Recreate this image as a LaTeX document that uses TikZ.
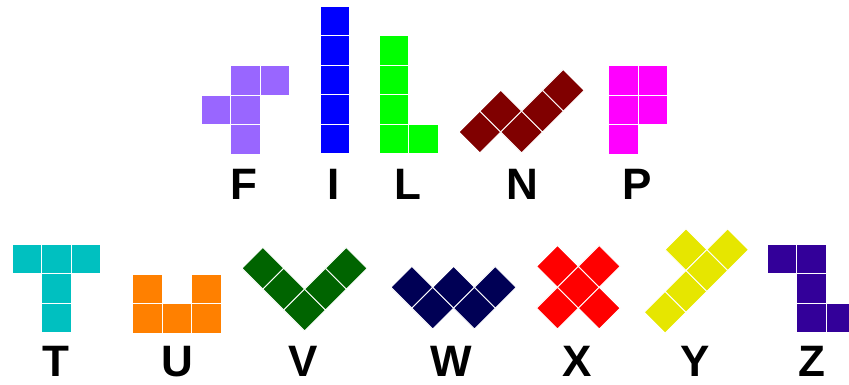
\documentclass[tikz,border=0pt]{standalone}
\usepackage{fontspec}
\setmainfont{Liberation Sans}
\usepackage{tikz}
\definecolor{colF}{HTML}{9966FF}
\definecolor{colI}{HTML}{0000FF}
\definecolor{colL}{HTML}{00FF00}
\definecolor{colN}{HTML}{800000}
\definecolor{colP}{HTML}{FF00FF}
\definecolor{colT}{HTML}{00C0C0}
\definecolor{colU}{HTML}{FF8000}
\definecolor{colV}{HTML}{006400}
\definecolor{colW}{HTML}{000055}
\definecolor{colX}{HTML}{FF0000}
\definecolor{colY}{HTML}{E6E600}
\definecolor{colZ}{HTML}{330099}
\tikzset{
    cell/.style={draw=white, line width=0.9pt},
    piece label/.style={font=\bfseries\fontsize{44}{44}\selectfont, inner sep=0pt, anchor=base},
}
\newcommand{\cellsize}{29.5}
\newcommand{\drawpiece}[4]{
    \begin{scope}[shift={#2}, rotate=#3]
        \foreach \c/\r in {#4}
            \fill[#1, cell] (\c*\cellsize, \r*\cellsize) rectangle ++(\cellsize, \cellsize);
    \end{scope}
}

\begin{document}
\begin{tikzpicture}[x=1pt, y=-1pt]
    \useasboundingbox (0,0) rectangle (849,385);
    \clip (0,0) rectangle (849,385);
    \drawpiece{colF}{(201,65.5)}{0}{1/0, 2/0, 0/1, 1/1, 1/2}
    \drawpiece{colI}{(320,6)}{0}{0/0, 0/1, 0/2, 0/3, 0/4}
    \drawpiece{colL}{(379.3,35.5)}{0}{0/0, 0/1, 0/2, 0/3, 1/3}
    \drawpiece{colN}{(459,132)}{45}{0/0, 1/0, 1/1, 2/1, 3/1}
    \drawpiece{colP}{(608.5,65.5)}{0}{0/0, 1/0, 0/1, 1/1, 0/2}
    \drawpiece{colT}{(12.3,244)}{0}{0/0, 1/0, 2/0, 1/1, 1/2}
    \drawpiece{colU}{(132.7,274)}{0}{0/0, 2/0, 0/1, 1/1, 2/1}
    \drawpiece{colV}{(242,268.3)}{45}{0/0, 0/1, 0/2, 1/2, 2/2}
    \drawpiece{colW}{(391,287.3)}{45}{0/0, 0/1, 1/1, 1/2, 2/2}
    \drawpiece{colX}{(515.8,287.2)}{45}{1/0, 0/1, 1/1, 2/1, 1/2}
    \drawpiece{colY}{(623.4,291.4)}{45}{2/0, 0/1, 1/1, 2/1, 3/1}
    \drawpiece{colZ}{(767.3,244.3)}{0}{0/0, 1/0, 1/1, 1/2, 2/2}

    \node[piece label] (labF) at (244.3,199.5) {F};
    \node[piece label] (labI) at (334,199.5) {I};
    \node[piece label] (labL) at (408,199.5) {L};
    \node[piece label] (labN) at (522,199.5) {N};
    \node[piece label] (labP) at (637,199.5) {P};
    \node[piece label] (labT) at (56,376.7) {T};
    \node[piece label] (labU) at (177,376.7) {U};
    \node[piece label] (labV) at (303.5,376.7) {V};
    \node[piece label] (labW) at (451,376.7) {W};
    \node[piece label] (labX) at (577,376.7) {X};
    \node[piece label] (labY) at (695,376.7) {Y};
    \node[piece label] (labZ) at (812,376.7) {Z};
\end{tikzpicture}
\end{document}
